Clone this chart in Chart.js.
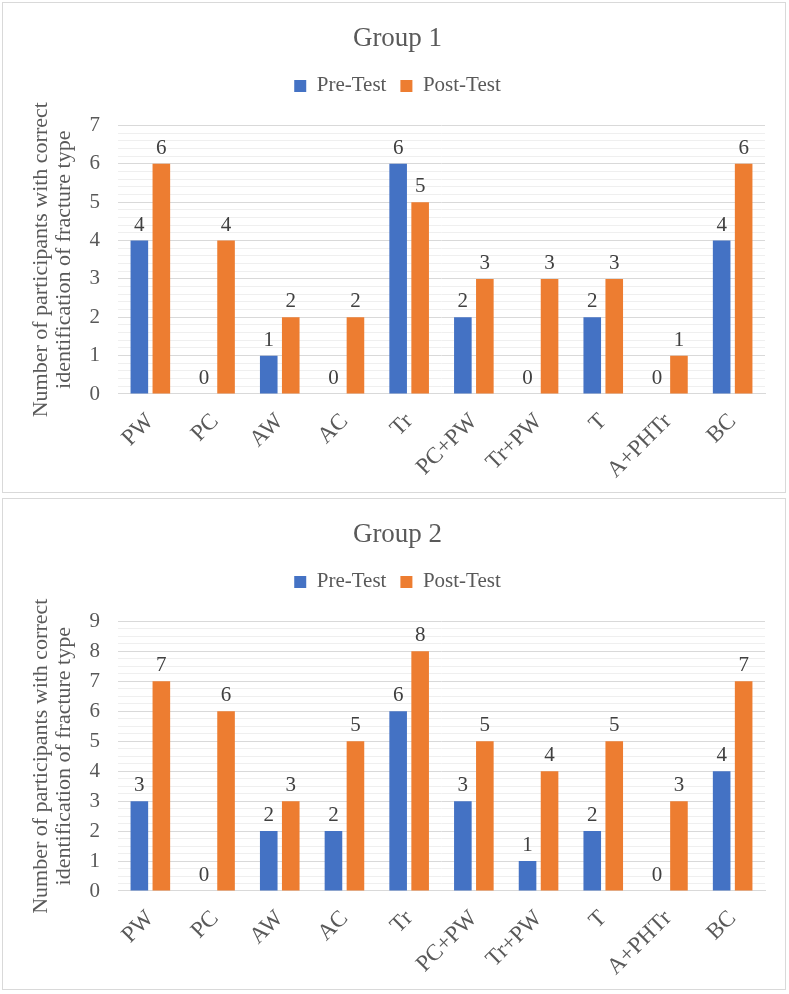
<!DOCTYPE html>
<html>
<head>
<meta charset="utf-8">
<script src="https://cdn.jsdelivr.net/npm/chart.js@4.4.0/dist/chart.umd.min.js"></script>
<style>
  html, body { margin: 0; padding: 0; background: #fff; }
  body { width: 789px; height: 994px; position: relative; overflow: hidden; }
  .box { position: absolute; left: 2px; width: 782px; border: 1px solid #D9D9D9; background: #fff; }
  #b1 { top: 2px; height: 489px; }
  #b2 { top: 498px; height: 490px; }
  canvas { display: block; }
</style>
</head>
<body>
<div class="box" id="b1"><canvas id="c1"></canvas></div>
<div class="box" id="b2"><canvas id="c2"></canvas></div>
<script>
/* fracture types on x axis */
const categories = ["PW", "PC", "AW", "AC", "Tr", "PC+PW", "Tr+PW", "T", "A+PHTr", "BC"];
const seriesNames = ["Pre-Test", "Post-Test"];

// Group 1
const g1Pre  = [4, 0, 1, 0, 6, 2, 0, 2, 0, 4];
const g1Post = [6, 4, 2, 2, 5, 3, 3, 3, 1, 6];
const g1Ticks = [0, 1, 2, 3, 4, 5, 6, 7];

// Group 2
const g2Pre  = [3, 0, 2, 2, 6, 3, 1, 2, 0, 4];
const g2Post = [7, 6, 3, 5, 8, 5, 4, 5, 3, 7];
const g2Ticks = [0, 1, 2, 3, 4, 5, 6, 7, 8, 9];

const FONT = "'Liberation Serif', 'Times New Roman', serif";
const TXT = "#595959";
const BLUE = "#4472C4", ORANGE = "#ED7D31";

// value labels over every bar, zeros included
const valueLabels = {
  id: "valueLabels",
  afterDatasetsDraw(chart) {
    const ctx = chart.ctx;
    ctx.save();
    ctx.font = "21px " + FONT;
    ctx.fillStyle = "#404040";
    ctx.textAlign = "center";
    ctx.textBaseline = "bottom";
    chart.data.datasets.forEach((ds, i) => {
      chart.getDatasetMeta(i).data.forEach((bar, j) => {
        ctx.fillText(String(ds.data[j]), bar.x, bar.y - 5);
      });
    });
    ctx.restore();
  },
};

// extra room under the legend, before the plot starts
const legendGap = {
  id: "legendGap",
  beforeInit(chart) {
    const fit = chart.legend.fit;
    chart.legend.fit = function () { fit.call(this); this.height += 19; };
  },
};

function makeChart(id, title, pre, post, ticks, minor) {
  const max = ticks[ticks.length - 1];
  const isMajor = (v) => Math.abs(v - Math.round(v)) < 1e-6;
  return new Chart(document.getElementById(id), {
    type: "bar",
    data: {
      labels: categories,
      datasets: [
        { label: seriesNames[0], data: pre, backgroundColor: BLUE },
        { label: seriesNames[1], data: post, backgroundColor: ORANGE },
      ],
    },
    plugins: [valueLabels, legendGap],
    options: {
      responsive: true, maintainAspectRatio: false, animation: false,
      datasets: { bar: { categoryPercentage: 0.68, barPercentage: 0.8 } },
      layout: { padding: { left: 27, right: 20, top: 0, bottom: 2 } },
      plugins: {
        title: { display: true, text: title, color: TXT, font: { family: FONT, size: 27, weight: "normal" }, padding: { top: 20, bottom: 6 } },
        legend: {
          position: "top",
          labels: { color: TXT, font: { family: FONT, size: 21 }, boxWidth: 12, boxHeight: 12, padding: 14 },
        },
        tooltip: { enabled: false },
      },
      scales: {
        x: {
          grid: { display: false },
          border: { color: "#D9D9D9" },
          ticks: { color: TXT, font: { family: FONT, size: 23 }, minRotation: 45, maxRotation: 45, padding: 6 },
        },
        y: {
          min: 0, max: max,
          afterFit: (s) => { s.width = 88; },
          border: { display: false },
          grid: { drawTicks: false, color: (c) => (isMajor(c.tick.value) ? "#D9D9D9" : "#EFEFEF") },
          ticks: {
            stepSize: minor, autoSkip: false, maxTicksLimit: 200, padding: 18,
            color: TXT, font: { family: FONT, size: 21 },
            callback: (v) => (isMajor(v) && ticks.includes(Math.round(v)) ? Math.round(v) : ""),
          },
          title: {
            display: true, color: TXT, font: { family: FONT, size: 22, lineHeight: 1.05 }, padding: 0,
            text: ["Number of participants with correct", "identification of fracture type"],
          },
        },
      },
    },
  });
}

makeChart("c1", "Group 1", g1Pre, g1Post, g1Ticks, 0.2);
makeChart("c2", "Group 2", g2Pre, g2Post, g2Ticks, 0.25);
</script>
</body>
</html>
